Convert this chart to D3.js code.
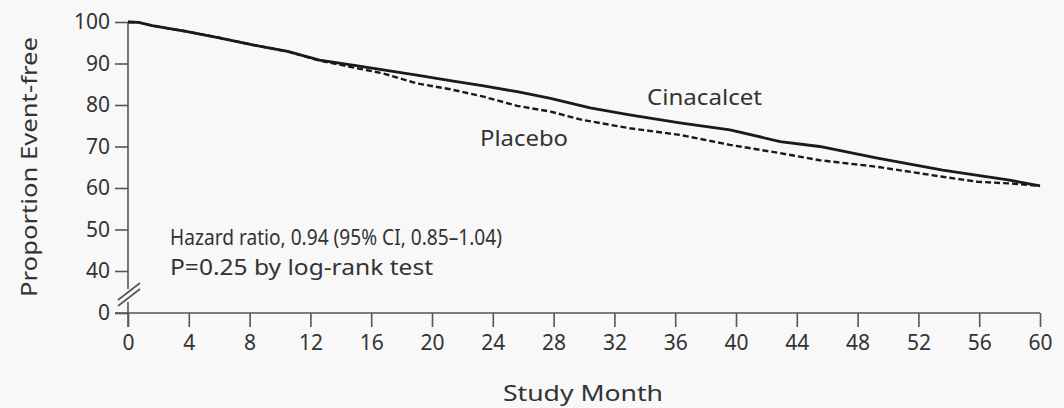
<!DOCTYPE html>
<html>
<head>
<meta charset="utf-8">
<script src="https://cdn.jsdelivr.net/npm/d3@7"></script>
<style>
  body { margin: 0; background: #f8f8f8; }
  svg text { font-family: "Noto Sans", "DejaVu Sans", sans-serif; fill: #333; }
  .axis path, .axis line { stroke: #555; stroke-width: 1.6; }
</style>
</head>
<body>
<div id="chart"></div>
<script>
// values (month, % event-free)
var cinaMonths = [0, 0.7, 1.6, 3.9, 6, 8.2, 10.5, 12.6, 15, 19, 21.2, 23.4, 25.6, 27.8, 30.4, 33, 36.3, 39.6, 42.9, 45.5, 49.3, 53.6, 58, 60];
var cinaValues = [100, 99.9, 99.1, 97.7, 96.2, 94.5, 92.9, 90.8, 89.5, 87.2, 85.9, 84.6, 83.2, 81.6, 79.3, 77.6, 75.7, 74.0, 71.2, 70.0, 67.2, 64.3, 61.9, 60.5];

var placeboMonths = [0, 0.7, 1.6, 3.9, 6, 8.2, 10.5, 12.6, 14.6, 16.8, 19, 21.2, 23.4, 25.6, 27.8, 29.9, 33, 36.3, 39.6, 42.9, 45.5, 49.3, 53.6, 55.9, 58, 60];
var placeboValues = [100, 99.9, 99.1, 97.7, 96.2, 94.5, 92.9, 90.7, 89.2, 87.6, 85.2, 83.8, 82.0, 79.8, 78.4, 76.4, 74.4, 72.8, 70.4, 68.4, 66.7, 65.1, 62.7, 61.5, 61.1, 60.5];

var xTicks = [0, 4, 8, 12, 16, 20, 24, 28, 32, 36, 40, 44, 48, 52, 56, 60];
var yTicks = [0, 40, 50, 60, 70, 80, 90, 100];

var svgWidth = 1064;
var svgHeight = 408;

var svg = d3.select("#chart")
  .append("svg")
  .attr("width", svgWidth)
  .attr("height", svgHeight);

// x: months, y: broken between 0 and 40
var xScale = d3.scaleLinear().domain([0, 60]).range([128, 1040]);
var yScale = d3.scaleLinear().domain([0, 40, 100]).range([313, 271, 22]);

// bottom axis
var xAxis = svg.append("g")
  .attr("class", "axis")
  .attr("transform", `translate(0, ${yScale(0)})`)
  .call(d3.axisBottom(xScale).tickValues(xTicks).tickSize(14).tickSizeOuter(0).tickPadding(8));

xAxis.selectAll("text").attr("font-size", 21);
xAxis.select(".domain").attr("d", `M115,0H${xScale(60)}`);

// left axis, domain drawn by hand because of the break
var yAxis = svg.append("g")
  .attr("class", "axis")
  .attr("transform", `translate(${xScale(0)}, 0)`)
  .call(d3.axisLeft(yScale).tickValues(yTicks).tickSize(13).tickPadding(5));

yAxis.selectAll("text").attr("font-size", 21);
yAxis.select(".domain").remove();

yAxis.append("path")
  .attr("d", `M0,${yScale(100)}V289M0,302V${yScale(0) + 14}`)
  .attr("stroke", "#555")
  .attr("stroke-width", 1.6)
  .attr("fill", "none");

// break marks
[0, 6].forEach(function(off) {
  yAxis.append("line")
    .attr("x1", -10).attr("y1", 306 - off)
    .attr("x2", 12).attr("y2", 289 - off)
    .attr("stroke", "#555")
    .attr("stroke-width", 1.6);
});

// curves
var line = d3.line()
  .x(d => xScale(d[0]))
  .y(d => yScale(d[1]));

svg.append("path")
  .datum(d3.zip(placeboMonths, placeboValues))
  .attr("d", line)
  .attr("fill", "none")
  .attr("stroke", "#1a1a1a")
  .attr("stroke-width", 2.4)
  .attr("stroke-dasharray", "6,3");

svg.append("path")
  .datum(d3.zip(cinaMonths, cinaValues))
  .attr("d", line)
  .attr("fill", "none")
  .attr("stroke", "#1a1a1a")
  .attr("stroke-width", 2.8);

// labels
function label(x, y, len, txt) {
  return svg.append("text")
    .attr("x", x).attr("y", y)
    .attr("font-size", 22)
    .attr("textLength", len)
    .attr("lengthAdjust", "spacingAndGlyphs")
    .text(txt);
}

label(647, 105, 115, "Cinacalcet");
label(480, 146, 88, "Placebo");
label(170, 245, 332, "Hazard ratio, 0.94 (95% CI, 0.85\u20131.04)");
label(170, 275, 263, "P=0.25 by log-rank test");
label(503, 401, 160, "Study Month");

svg.append("text")
  .attr("transform", "translate(37, 167) rotate(-90)")
  .attr("text-anchor", "middle")
  .attr("font-size", 22)
  .attr("textLength", 260)
  .attr("lengthAdjust", "spacingAndGlyphs")
  .text("Proportion  Event-free");
</script>
</body>
</html>
